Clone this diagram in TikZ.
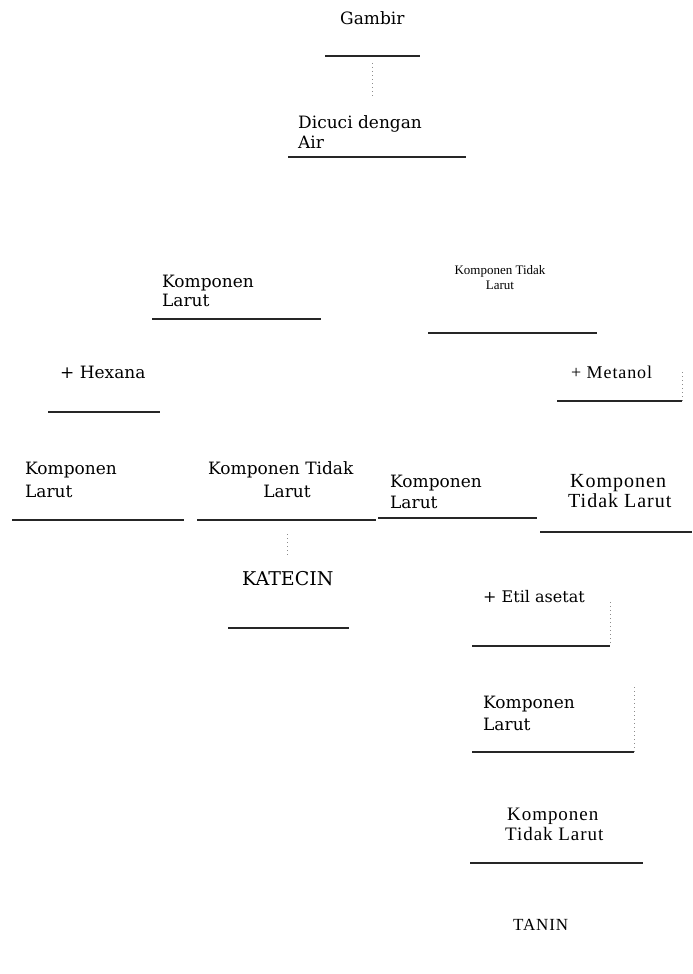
\documentclass[tikz,border=0pt]{standalone}
\usepackage{fontspec}
\setmainfont{DejaVu Serif}
\newfontfamily\tms{Liberation Serif}
\newfontfamily\tsp{Liberation Serif}[LetterSpace=5]
\begin{document}
\begin{tikzpicture}[x=1pt,y=-1pt,
  bt/.style={anchor=base west, inner sep=0pt, text=black, font=\fontsize{17}{20}\selectfont},
  sm/.style={anchor=base, inner sep=0pt, text=black, font=\tms\fontsize{13}{15}\selectfont},
  ts/.style={anchor=base west, inner sep=0pt, text=black, font=\tsp\fontsize{19}{22}\selectfont},
  uline/.style={line width=1.2pt, black!85},
  dotv/.style={black!45, line width=0.6pt, dash pattern=on 1pt off 3pt}]
\useasboundingbox (0,0) rectangle (693,974);
% top
\node[bt] (gambir) at (340,25) {Gambir};
\draw[uline] (325,56) -- (420,56);
\coordinate (g1) at (372,63); \coordinate (g2) at (372,96);
\draw[dotv] (g1) -- (g2);
\node[bt] (dic1) at (298,128) {Dicuci dengan};
\node[bt] (dic2) at (298,148) {Air};
\draw[uline] (288,157) -- (466,157);
% second level
\node[bt] (l1a) at (162,287) {Komponen};
\node[bt] (l1b) at (162,306) {Larut};
\draw[uline] (152,319) -- (321,319);
\node[sm] (r1a) at (500,274) {Komponen Tidak};
\node[sm] (r1b) at (500,289) {Larut};
\draw[uline] (428,333) -- (597,333);
% solvents
\node[bt] (hex) at (60,378) {+ Hexana};
\draw[uline] (48,412) -- (160,412);
\node[ts, font=\tsp\fontsize{18}{21}\selectfont] (met) at (571,378) {+ Metanol};
\draw[uline] (557,401) -- (682,401);
\coordinate (m1) at (682,372); \coordinate (m2) at (682,401);
\draw[dotv] (m1) -- (m2);
% third level
\node[bt] (a1) at (25,474) {Komponen};
\node[bt] (a2) at (25,497) {Larut};
\draw[uline] (12,520) -- (184,520);
\node[bt] (b1) at (208,474) {Komponen Tidak};
\node[bt, anchor=base] (b2) at (287,497) {Larut};
\draw[uline] (197,520) -- (376,520);
\node[bt] (c1) at (390,487) {Komponen};
\node[bt] (c2) at (390,508) {Larut};
\draw[uline] (378,518) -- (537,518);
\node[ts, font=\tsp\fontsize{20}{23}\selectfont] (d1) at (570,487) {Komponen};
\node[ts, font=\tsp\fontsize{20}{23}\selectfont] (d2) at (568,507) {Tidak Larut};
\draw[uline] (540,532) -- (692,532);
% katecin
\coordinate (k1) at (287,534); \coordinate (k2) at (287,556);
\draw[dotv] (k1) -- (k2);
\node[bt, font=\fontsize{19}{22}\selectfont] (kat) at (242,585) {KATECIN};
\draw[uline] (228,628) -- (349,628);
% etil asetat branch
\node[bt, font=\fontsize{16}{19}\selectfont] (etil) at (483,602) {+ Etil asetat};
\draw[uline] (472,646) -- (610,646);
\coordinate (e1t) at (610,602); \coordinate (e1b) at (610,646);
\draw[dotv] (e1t) -- (e1b);
\node[bt] (e1) at (483,708) {Komponen};
\node[bt] (e2) at (483,730) {Larut};
\draw[uline] (472,752) -- (634,752);
\coordinate (e2t) at (634,687); \coordinate (e2b) at (634,752);
\draw[dotv] (e2t) -- (e2b);
\node[ts] (f1) at (507,820) {Komponen};
\node[ts] (f2) at (505,840) {Tidak Larut};
\draw[uline] (470,863) -- (643,863);
\node[ts, font=\tsp\fontsize{17}{20}\selectfont] (tanin) at (513,930) {TANIN};
\end{tikzpicture}
\end{document}
